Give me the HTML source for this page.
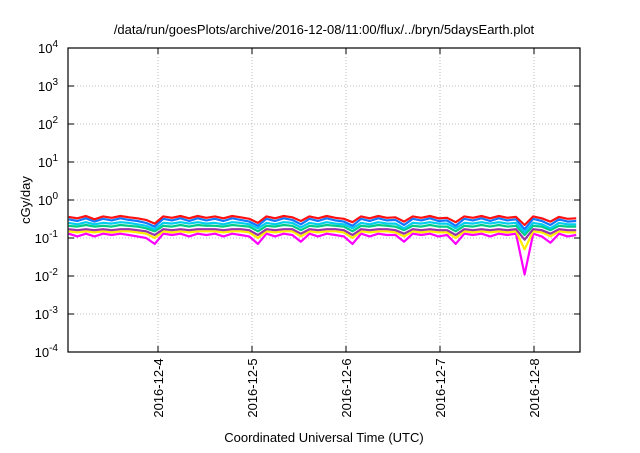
<!DOCTYPE html>
<html><head><meta charset="utf-8"><style>
body{margin:0;background:#fff;}
svg text{font-family:"Liberation Sans",sans-serif;fill:#000;}
</style></head><body>
<svg id="chart" width="640" height="448" viewBox="0 0 640 448">
<text x="324" y="34" font-size="13" text-anchor="middle">/data/run/goesPlots/archive/2016-12-08/11:00/flux/../bryn/5daysEarth.plot</text>
<g id="grid"></g><g id="series"></g><g id="axes"></g>
<text x="324" y="442" font-size="13" text-anchor="middle">Coordinated Universal Time (UTC)</text>
<text transform="translate(30,200) rotate(-90)" font-size="13" text-anchor="middle">cGy/day</text>
</svg>
<script>
const yExponents=[-4,-3,-2,-1,0,1,2,3,4];
const xTickLabels=["2016-12-4","2016-12-5","2016-12-6","2016-12-7","2016-12-8"];
const xTickDays=[4,5,6,7,8];
const startDay=3.05, stepDay=0.0915;
const red=[0.36,0.33,0.38,0.31,0.37,0.34,0.38,0.35,0.33,0.30,0.24,0.37,0.34,0.38,0.33,0.38,0.34,0.37,0.33,0.38,0.35,0.32,0.25,0.37,0.33,0.38,0.35,0.28,0.37,0.33,0.38,0.34,0.32,0.26,0.37,0.33,0.38,0.34,0.35,0.27,0.37,0.34,0.38,0.33,0.34,0.26,0.37,0.34,0.38,0.33,0.38,0.34,0.36,0.22,0.37,0.33,0.27,0.36,0.32,0.33];
const blue=[0.31,0.28,0.33,0.27,0.32,0.29,0.33,0.30,0.28,0.25,0.20,0.32,0.29,0.33,0.28,0.33,0.29,0.32,0.28,0.33,0.30,0.27,0.21,0.32,0.28,0.33,0.30,0.23,0.32,0.28,0.33,0.29,0.27,0.21,0.32,0.28,0.33,0.29,0.30,0.22,0.32,0.29,0.33,0.28,0.29,0.21,0.32,0.29,0.33,0.28,0.33,0.29,0.31,0.17,0.32,0.28,0.22,0.31,0.27,0.28];
const cyan=[0.25,0.23,0.26,0.23,0.25,0.24,0.26,0.25,0.23,0.21,0.17,0.25,0.24,0.26,0.24,0.26,0.24,0.25,0.23,0.26,0.25,0.23,0.18,0.25,0.23,0.26,0.25,0.19,0.25,0.23,0.26,0.24,0.23,0.18,0.25,0.23,0.26,0.24,0.24,0.18,0.25,0.24,0.26,0.24,0.24,0.18,0.25,0.24,0.26,0.24,0.26,0.24,0.25,0.14,0.25,0.23,0.18,0.25,0.23,0.23];
const teal=[0.21,0.20,0.22,0.20,0.21,0.20,0.22,0.21,0.20,0.18,0.15,0.21,0.20,0.22,0.20,0.22,0.21,0.21,0.20,0.22,0.21,0.20,0.15,0.21,0.20,0.22,0.21,0.16,0.21,0.20,0.22,0.21,0.20,0.15,0.21,0.20,0.22,0.21,0.20,0.16,0.21,0.20,0.22,0.20,0.20,0.15,0.21,0.20,0.22,0.20,0.22,0.20,0.21,0.12,0.21,0.20,0.16,0.21,0.20,0.20];
const purple=[0.17,0.16,0.17,0.16,0.17,0.16,0.17,0.17,0.16,0.15,0.12,0.17,0.16,0.17,0.16,0.17,0.17,0.17,0.16,0.17,0.17,0.16,0.12,0.17,0.16,0.17,0.17,0.13,0.17,0.16,0.17,0.17,0.16,0.12,0.17,0.16,0.17,0.17,0.16,0.13,0.17,0.16,0.17,0.16,0.16,0.12,0.17,0.16,0.17,0.16,0.17,0.16,0.17,0.09,0.17,0.16,0.13,0.17,0.16,0.16];
const yellow=[0.15,0.14,0.15,0.14,0.15,0.14,0.15,0.15,0.14,0.13,0.10,0.15,0.14,0.15,0.14,0.15,0.15,0.15,0.14,0.15,0.15,0.14,0.10,0.15,0.14,0.15,0.15,0.11,0.15,0.14,0.15,0.15,0.14,0.10,0.15,0.14,0.15,0.15,0.14,0.11,0.15,0.14,0.15,0.14,0.14,0.10,0.15,0.14,0.15,0.14,0.15,0.14,0.15,0.05,0.15,0.14,0.11,0.15,0.14,0.14];
const magenta=[0.13,0.11,0.13,0.11,0.13,0.12,0.13,0.12,0.11,0.10,0.07,0.13,0.12,0.13,0.11,0.13,0.12,0.13,0.11,0.13,0.12,0.11,0.07,0.13,0.11,0.13,0.12,0.08,0.13,0.11,0.13,0.12,0.11,0.07,0.13,0.11,0.13,0.12,0.12,0.08,0.13,0.12,0.13,0.11,0.12,0.07,0.13,0.12,0.13,0.11,0.13,0.12,0.13,0.011,0.13,0.11,0.075,0.13,0.11,0.12];
const seriesList=[["magenta",magenta,"#ff00ff"],["yellow",yellow,"#ffee00"],["purple",purple,"#9933aa"],["teal",teal,"#00cc88"],["cyan",cyan,"#00ccee"],["blue",blue,"#1177ff"],["red",red,"#ff1111"]];
const L=68,R=580,T=48,B=352,NS="http://www.w3.org/2000/svg";
const yScale=v=>B-(Math.log10(v)+4)*(B-T)/8;
const xScale=d=>L+(d-(4-90/94))*94;
function mk(t,a,p){const e=document.createElementNS(NS,t);for(const k in a)e.setAttribute(k,a[k]);p.appendChild(e);return e;}
const grid=document.getElementById('grid'),axes=document.getElementById('axes'),ser=document.getElementById('series');
yExponents.forEach(p=>{const y=yScale(Math.pow(10,p));
 if(p>-4&&p<4){const g=mk('line',{x1:L,x2:R,y1:y,y2:y,stroke:'#bbb','stroke-dasharray':'1,2'},grid);
 
 }
 const t=mk('line',{x1:L,x2:L+6,y1:y,y2:y,stroke:'#000'},axes);
 
 
 const t2=mk('line',{x1:R-6,x2:R,y1:y,y2:y,stroke:'#000'},axes);
 
 
 const tx=mk('text',{x:L-10,y:y+5,'font-size':13,'text-anchor':'end'},axes);
 
 
 tx.innerHTML='10<tspan dy="-6" font-size="10">'+p+'</tspan>';});
xTickDays.forEach((d,i)=>{const x=xScale(d);
 const g=mk('line',{x1:x,x2:x,y1:T,y2:B,stroke:'#bbb','stroke-dasharray':'1,2'},grid);
 
 
 const t=mk('line',{x1:x,x2:x,y1:B-6,y2:B,stroke:'#000'},axes);
 
 
 const t2=mk('line',{x1:x,x2:x,y1:T,y2:T+6,stroke:'#000'},axes);
 
 
 const tx=mk('text',{transform:`translate(${x+5},${B+36}) rotate(-90)`,'font-size':13,'text-anchor':'middle'},axes);
 
 
 tx.textContent=xTickLabels[i];});
const fr=mk('rect',{x:L,y:T,width:R-L,height:B-T,fill:'none',stroke:'#000','stroke-width':1.2},axes);


seriesList.forEach(([n,vals,c])=>{const pts=vals.map((v,i)=>xScale(startDay+i*stepDay).toFixed(1)+','+yScale(v).toFixed(1)).join(' ');
 const pl=mk('polyline',{points:pts,fill:'none',stroke:c,'stroke-width':2.2,'stroke-linejoin':'round'},ser);
 
 });
</script>
</body></html>
